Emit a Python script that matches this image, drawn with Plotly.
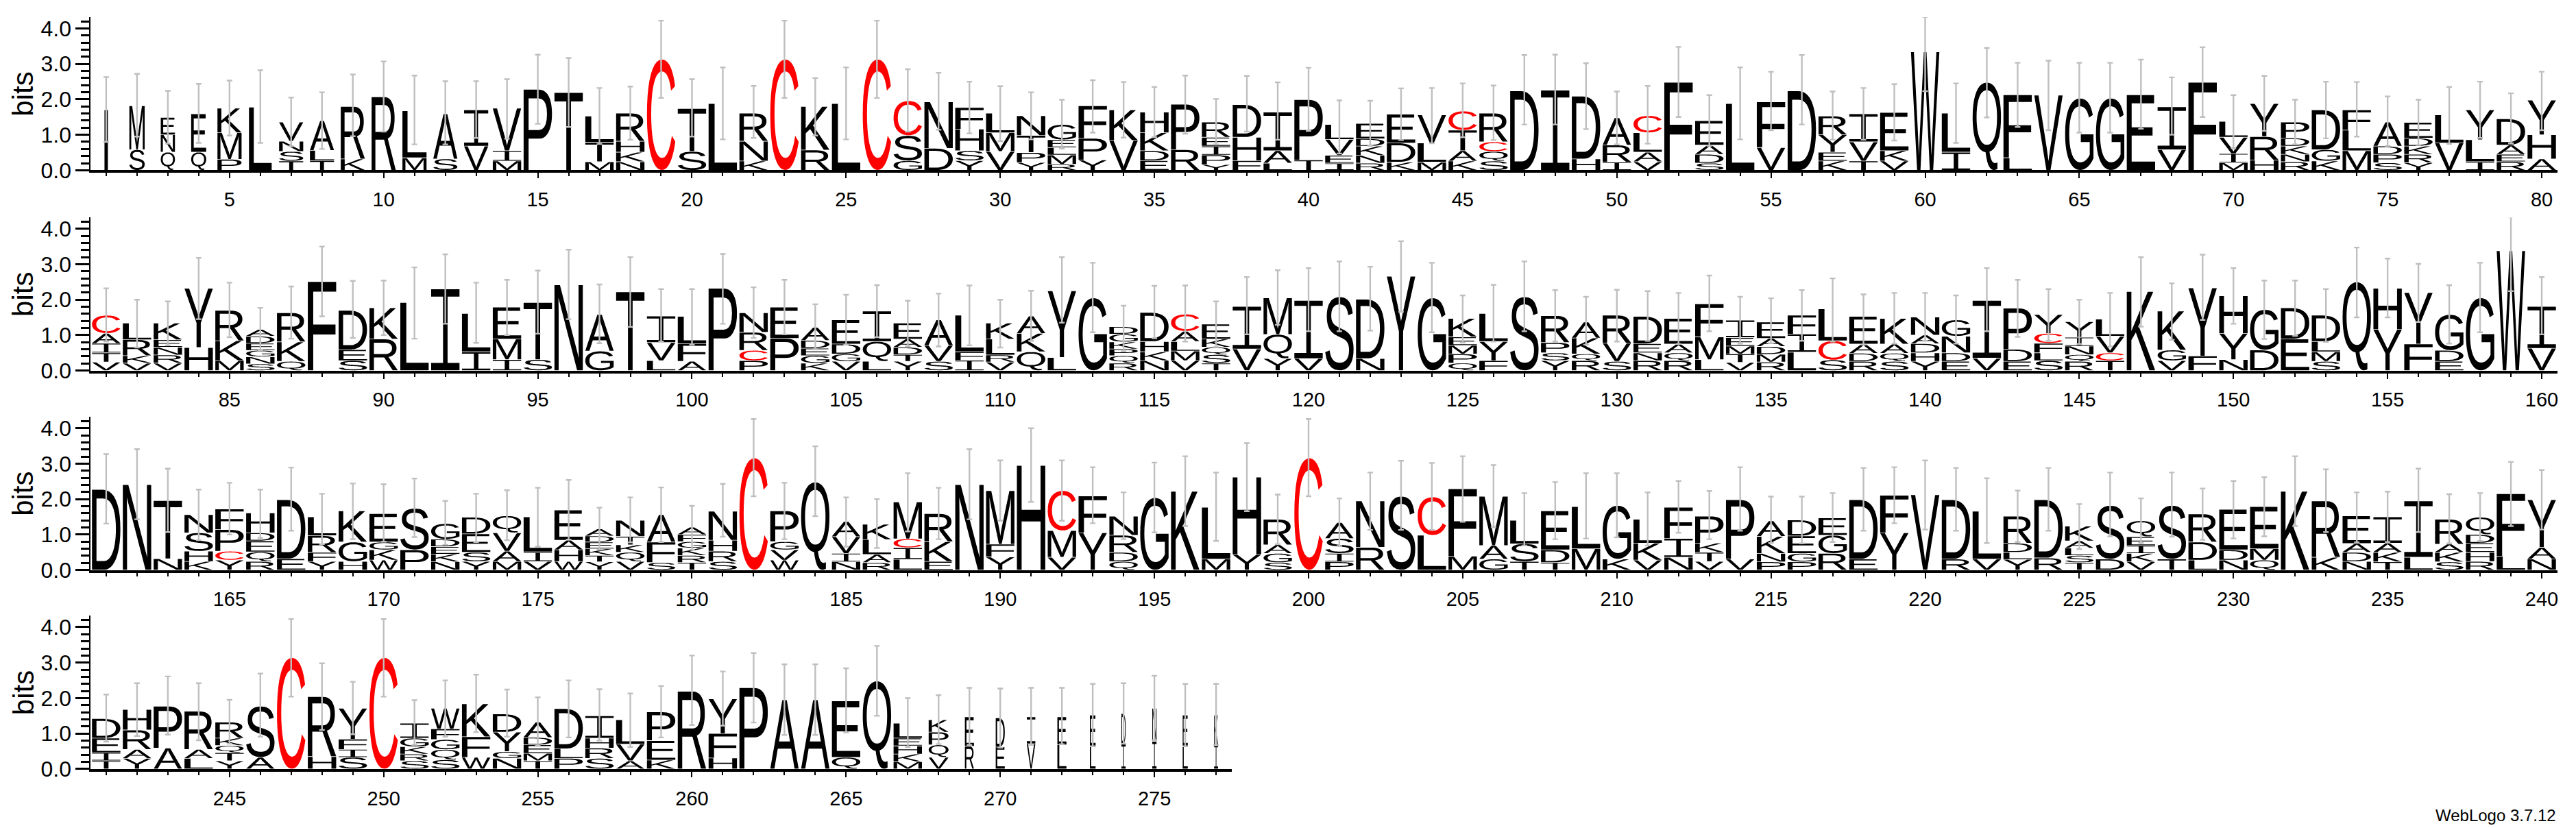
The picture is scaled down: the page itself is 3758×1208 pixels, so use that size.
import os, re, struct
import plotly.graph_objects as go

# ---------- data: each stack reads bottom to top, letter + cumulative height in bits ----------
stacks_1_80 = [
"I1.70","S.58 M1.82","Q.51 N1.0 E1.49","Q.51 E1.59","P.31 M1.06 K1.75","L1.78","T.26 S.53 N.82 V1.36","T.27 L.56 A1.40","K.32 R1.80","R2.07",
"M.35 L1.68","S.32 A1.59","V.68 I1.70","M.26 I.55 V1.75","P2.28","T2.19","M.24 T.79 L1.53","N.24 K.51 H.82 R1.61","C3.13","S.53 T1.74",
"L1.88","K.26 N.82 R1.61","C3.13","R.57 K1.80","L1.88","C3.13","G.27 S.98 C1.96","D.62 N1.93","Y.27 S.55 H1.16 F1.77","V.53 M1.06 L1.61",
"Y.22 P.5 T.98 N1.54","R.17 M.43 L.64 E.86 G1.29","Y.29 P.9 F1.82","V.84 K1.70","E.27 D.55 K1.06 H1.64","R.58 P1.86","Y.16 P.43 I.68 E.93 R1.36","F.27 H.93 D1.85","L.2 A.55 I1.64","T.29 P1.99",
"I.2 E.42 V.87 L1.29","R.2 N.42 K.68 D.89 E1.32","K.23 D.77 E1.58","M.23 L.77 V1.56","K.26 A.55 T1.13 C1.67","S.26 Q.53 C.8 R1.61","D2.24","I2.26","H.32 D2.09","I.23 R.71 A1.48",
"V.24 A.51 L1.06 C1.54","F2.48","S.2 D.45 A.71 E1.40","L1.88","V.64 F1.93","D2.24","K.26 E.51 Y1.0 R1.53","T.26 V.8 I1.59","V.26 K.55 E1.63","W3.34",
"I.51 L1.61","Q2.48","L.35 F2.13","V2.12","G2.03","G2.03","E2.13","V.58 I1.79","F2.48","M.21 I.47 V.93 L1.38",
"H.29 R.95 Y1.88","R.24 N.45 K.68 D.91 P1.36","K.26 G.58 D1.70","M.55 L1.13 F1.70","S.21 P.45 D.68 A1.36","Y.21 R.45 K.68 D.91 E1.35","V.77 L1.56","I.24 L.86 Y1.70","R.24 E.45 A.71 D1.45","A.32 H1.0 Y1.98",
]
stacks_81_160 = [
"V.24 T.5 I.77 A1.05 C1.56","V.21 K.42 R.87 L1.34","V.21 R.44 N.66 E.87 K1.34","H.65 Y2.32","M.28 K.84 R1.70","S.19 N.39 G.57 E.77 D.97 A1.16","Q.26 K.81 R1.63","F2.51","S.28 E.59 D1.70","R.89 K1.77",
"L1.92","I2.30","I.53 L1.61","I.31 M.89 E1.79","S.31 T1.92","N2.42","G.55 A1.58","T2.22","L.28 V.79 I1.54","A.26 F.76 L1.53",
"P2.32","P.28 C.57 R1.08 N1.63","P.91 E1.79","K.21 G.42 E.63 D.85 A1.22","V.26 G.47 D.75 E1.43","L.26 Q.82 I1.68","Y.26 T.45 D.66 A.89 E1.34","S.26 V.71 A1.43","I.29 F.53 L1.56","V.24 R.44 L.89 K1.34",
"Q.53 K1.05 A1.54","L.37 Y2.25","G2.05","R.21 Q.42 P.61 K.81 G1.03 D1.24","N.28 K.53 H.82 D1.64","V.28 M.55 L.82 A1.11 C1.59","T.21 S.45 Q.66 K.89 E1.31","V.61 I1.81","Y.34 Q1.02 M2.05","V.34 I1.98",
"S2.08","N.34 D2.01","Y2.66","G2.05","Q.21 P.47 M.71 E.95 K1.47","F.28 Y.82 L1.61","S2.08","Y.28 S.5 P.79 R1.55","R.28 Q.47 K.92 A1.37","S.26 V.78 R1.56",
"R.28 N.5 E.76 D1.53","R.28 Q.5 A.75 E1.47","L.31 M.95 F1.88","V.23 T.47 M.69 E.93 I1.42","R.24 M.46 D.68 A.91 E1.37","L.52 I1.03 F1.56","S.3 C.84 L1.74","R.26 D.49 A.75 E1.53","S.26 Q.49 A.75 K1.47","Y.26 H.5 D.76 A1.0 N1.51",
"E.26 D.5 N.97 G1.43","V.35 I1.98","E.26 D.6 P1.76","S.28 L.5 F.77 C1.05 Y1.58","R.26 Q.45 N.69 I.94 Y1.38","T.28 C.5 V.97 L1.45","K2.23","V.28 G.58 K1.68","F.41 Y2.33","N.31 Y1.05 H2.11",
"D.58 G1.72","E.89 D1.77","S.26 M.53 L.82 D1.56","Q2.50","Y1.16 H2.32","F.75 Y2.20","E.26 D.57 G1.58","G2.05","W3.38","V.63 I1.81",
]
stacks_161_240 = [
"D2.27","N2.41","N.32 T1.96","K.24 H.53 S1.05 N1.56","Y.28 C.53 P1.14 F1.72","R.24 Q.51 E.82 D1.05 H1.61","E.32 D1.98","Y.24 F.5 R.97 L1.50","H.24 G.79 K1.67","W.28 K.57 G.79 E1.59",
"P.57 S1.74","N.23 K.45 E.66 D.87 G1.31","Y.24 S.5 E1.02 D1.49","M.24 A.53 V1.05 Q1.53","V.24 I.51 L1.50","W.24 H.57 A.84 E1.69","Y.23 T.41 K.6 E.79 D.96 A1.16","V.24 Q.5 K.71 T.95 N1.40","S.21 F.79 A1.56","T.21 R.41 K.62 G.8 F1.0 A1.21",
"S.24 R.53 H.84 N1.66","C3.16","W.28 V.57 G.8 P1.67","Q2.48","N.23 I.47 V.94 A1.37","R.21 A.44 L.86 K1.29","L.3 I.63 C.88 M1.92","E.24 K.8 R1.59","N2.41","Y.37 F.73 M2.24",
"H2.95","V.36 M1.11 C2.24","Y1.05 F2.09","Q.24 D.5 R.98 N1.52","G2.04","K2.22","M.31 L1.77","Y.44 H2.62","S.21 G.47 A.71 R1.43","C3.16",
"P.23 I.47 S.89 A1.34","R.64 N1.95","S2.08","L.98 C2.06","M.39 F2.29","G.31 A.69 M2.08","T.24 S.74 L1.40","T.21 D.57 E1.67","M.6 L1.79","K.31 G1.82",
"V.28 K.76 L1.43","N.36 I.89 F1.77","V.24 T.5 K.76 P1.52","V.31 P1.98","P.23 N.47 K.95 A1.39","P.23 G.47 E.96 D1.41","R.47 G.98 E1.47","E.31 D1.98","Y1.05 F2.11","V2.12",
"R.31 D1.98","V.31 L1.66","Y.3 L.5 D.76 R1.52","R.34 D1.98","T.21 S.41 L.62 A.82 K1.24","D.31 S1.82","V.23 K.47 I.69 E.94 Q1.39","T.31 S1.82","L.28 D.79 R1.58","N.28 D.57 E1.71",
"Q.28 M.6 E1.79","K2.22","K.36 R1.95","N.24 D.5 A.75 E1.53","T.23 K.5 A.76 I1.50","L.36 I1.95","S.23 K.5 A.73 R1.43","R.24 H.5 E.76 D1.0 Q1.49","L.39 F2.15","N.31 A.64 Y1.98",
]
stacks_241_277 = [
"T.23 I.46 E.87 D1.42","Y.3 A.55 R1.1 H1.68","A.59 P1.77","L.3 A.55 R1.63","Y.23 T.46 Q.66 K.87 R1.32","A.33 S1.77","C3.14","H.35 R2.04","S.33 I.55 F.84 Y1.71","C3.14",
"S.23 R.42 K.63 G.87 I1.29","S.26 Q.55 G.83 F1.13 W1.71","W.33 F.91 K1.84","N.3 G.49 Y1.04 D1.55","T.23 M.44 E.68 D.89 A1.32","P.3 L.57 D1.70","S.3 R.59 H.87 I1.50","A.23 V.7 L1.39","K.25 E.8 P1.61","R2.19",
"H.31 F1.0 Y1.98","P2.29","A1.95","A1.95","Q.33 E1.92","Q2.48","M.2 K.42 H.65 E.87 L1.29","V.33 Q.68 P1.04 K1.39","R.64 E1.47","E.62 D1.44",
"V.71 I1.47","L.68 E1.47","L.63 E1.52","I.7 D1.56","I.78 N1.71","L.63 E1.52","I.68 K1.52",
]
err_high = [
2.63,2.72,2.24,2.44,2.53,2.82,2.05,2.2,2.7,3.07,2.67,2.51,2.51,2.57,3.26,3.17,2.32,2.36,4.22,2.57,
2.9,2.38,4.22,2.6,2.9,4.22,2.85,2.75,2.5,2.37,2.2,1.99,2.54,2.49,2.35,2.67,2.01,2.66,2.48,2.89,
1.97,1.96,2.31,2.32,2.45,2.39,3.25,3.26,3.02,2.22,2.38,3.48,2.12,2.9,2.78,3.25,2.22,2.32,2.43,4.33,
2.45,3.45,3.03,3.09,3.03,3.03,3.12,2.62,3.47,2.12,2.66,1.99,2.5,2.49,2.08,1.99,2.35,2.5,2.17,2.78,
2.32,2.0,1.95,3.18,2.48,1.77,2.37,3.5,2.53,2.54,2.91,3.28,2.48,2.56,2.82,3.41,2.43,3.2,2.3,2.3,
3.29,2.35,2.56,1.87,2.14,2.41,1.97,2.17,2.4,2.0,2.25,3.2,3.04,1.83,2.39,2.4,1.95,2.64,2.83,2.89,
3.08,2.93,3.65,3.04,2.12,2.42,3.08,2.27,2.08,2.28,2.24,2.19,2.68,2.08,2.04,2.27,2.6,2.15,2.19,2.19,
2.12,2.89,2.56,2.3,2.0,2.19,3.2,2.46,3.27,2.89,2.54,2.54,2.3,3.47,3.16,3.01,2.41,3.04,4.34,2.64,
3.27,3.41,2.86,2.27,2.46,2.27,2.89,2.15,2.44,2.42,2.58,1.95,2.15,2.25,2.32,2.54,1.76,2.05,2.33,1.81,
2.43,4.26,2.46,3.49,2.05,2.0,2.73,2.32,3.41,3.09,4.0,3.09,2.9,2.19,3.03,3.21,2.75,3.58,2.13,4.26,
2.02,2.75,3.08,3.02,3.21,2.96,2.17,2.48,2.73,2.73,2.19,2.51,2.23,2.9,2.07,2.07,2.17,2.88,2.9,3.09,
2.88,2.59,2.24,2.88,1.86,2.75,2.02,2.75,2.3,2.51,2.62,3.21,2.84,2.19,2.21,2.86,2.14,2.17,3.05,2.82,
2.1,2.42,2.61,2.42,1.95,2.69,4.23,2.98,2.46,4.23,1.94,2.5,2.66,2.24,2.02,2.5,2.25,2.13,2.34,3.2,
2.75,3.27,2.95,2.95,2.84,3.47,2.0,2.08,2.29,2.27,2.29,2.29,2.4,2.42,2.63,2.4,2.4,
]
err_low = [
.8,.95,.75,.77,.98,.77,.68,.6,.96,1.09,.73,.73,.91,.89,1.31,1.22,.74,.86,2.04,.95,
.87,.91,2.04,.98,.87,2.04,1.09,1.14,1.04,.82,.87,.61,1.06,.92,.93,1.03,.73,1.09,.86,1.11,
.47,.69,.85,.76,.93,.85,1.29,1.29,1.16,.73,.75,1.5,.69,.87,1.13,1.29,.86,.86,.84,2.23,
.77,1.49,1.22,1.13,1.06,1.06,1.17,1.0,1.5,.62,1.11,.73,.9,.95,.68,.71,.74,.91,.76,1.13,
.82,.65,.71,1.45,.94,.57,.9,1.53,.92,1.0,.9,1.32,.78,1.0,1.04,1.45,.77,1.23,.82,.73,
1.32,.92,1.02,.6,.73,.94,.69,.68,.71,.65,.84,1.35,1.08,.54,.91,.82,.66,1.02,1.29,1.11,
1.11,1.13,1.66,1.08,.79,.82,1.11,.82,.73,.82,.84,.75,1.11,.76,.77,.84,.82,.73,.76,.84,
.76,1.11,.95,.84,.75,.68,1.24,.87,1.43,1.32,.89,.98,.81,1.5,1.5,1.37,.76,1.08,2.24,1.02,
1.31,1.43,1.07,.84,1.0,.9,1.11,.73,.87,.8,.93,.71,.79,.84,.66,.86,.57,.78,.79,.57,
.94,2.08,.87,1.52,.66,.62,1.09,.87,1.43,1.39,1.92,1.39,1.32,.87,1.06,1.24,.82,1.66,.73,2.08,
.68,1.13,1.13,1.13,1.36,1.21,.69,.87,.89,.92,.69,1.05,.87,1.11,.76,.75,.79,1.11,1.32,1.14,
1.11,.76,.79,1.11,.59,.95,.76,.94,.85,.89,.95,1.24,1.07,.78,.79,1.07,.75,.82,1.24,1.14,
.77,.93,.97,.81,.71,.91,2.04,1.1,.98,2.04,.68,.91,1.04,.91,.65,.89,.8,.62,.89,1.24,
1.22,1.31,.96,.96,1.03,1.5,.62,.7,.68,.6,.68,.7,.64,.71,.81,.64,.67,
]
narrow_stacks = {1:.12,2:.54,3:.5,4:.53,5:.85,6:.8,7:.85,8:.85,9:.85,10:.85,11:.85,12:.85,13:.85,
                 268:.7,269:.32,270:.32,271:.3,272:.32,273:.2,274:.15,275:.15,276:.18,277:.14}
plain_bar_stacks = {1}
all_stacks = stacks_1_80 + stacks_81_160 + stacks_161_240 + stacks_241_277
row_ranges = [(1, 80), (81, 160), (161, 240), (241, 277)]
row_base_px = [248, 541, 832.7, 1123.7]
W, H = 3758, 1192
PX_PER_POS, AX_LEFT, AX_HEIGHT = 45.0, 132.5, 224.0
FONT = "Liberation Sans, Arial, sans-serif"
LETTER_FILL = 0.92


# ---------- glyph outlines are read out of the installed font ----------
def find_font():
    for root in ("/usr/share/fonts", "/usr/local/share/fonts", os.path.expanduser("~/.fonts")):
        for d, _, files in os.walk(root):
            if "LiberationSans-Regular.ttf" in files:
                return os.path.join(d, "LiberationSans-Regular.ttf")
    raise RuntimeError("font not found")


def load_glyphs(path, chars):
    data = open(path, "rb").read()
    n = struct.unpack(">H", data[4:6])[0]
    tabs = {}
    for i in range(n):
        tag, _, off, ln = struct.unpack(">4sIII", data[12 + 16 * i:28 + 16 * i])
        tabs[tag.decode()] = off
    fmt = struct.unpack(">h", data[tabs["head"] + 50:tabs["head"] + 52])[0]
    cm = tabs["cmap"]
    nt = struct.unpack(">H", data[cm + 2:cm + 4])[0]
    sub = None
    for i in range(nt):
        pid, eid, o = struct.unpack(">HHI", data[cm + 4 + 8 * i:cm + 12 + 8 * i])
        if pid == 3 and eid in (1, 10):
            if struct.unpack(">H", data[cm + o:cm + o + 2])[0] == 4:
                sub = cm + o
    segx2 = struct.unpack(">H", data[sub + 6:sub + 8])[0]
    seg = segx2 // 2

    def gid(c):
        for i in range(seg):
            end = struct.unpack(">H", data[sub + 14 + 2 * i:sub + 16 + 2 * i])[0]
            if c <= end:
                p = sub + 16 + segx2
                start = struct.unpack(">H", data[p + 2 * i:p + 2 + 2 * i])[0]
                delta = struct.unpack(">h", data[p + segx2 + 2 * i:p + segx2 + 2 + 2 * i])[0]
                rp = p + 2 * segx2 + 2 * i
                ro = struct.unpack(">H", data[rp:rp + 2])[0]
                if c < start:
                    return 0
                if ro == 0:
                    return (c + delta) & 0xFFFF
                g = struct.unpack(">H", data[rp + ro + 2 * (c - start):rp + ro + 2 * (c - start) + 2])[0]
                return (g + delta) & 0xFFFF if g else 0
        return 0

    def loca(g):
        if fmt:
            return struct.unpack(">I", data[tabs["loca"] + 4 * g:tabs["loca"] + 4 * g + 4])[0]
        return 2 * struct.unpack(">H", data[tabs["loca"] + 2 * g:tabs["loca"] + 2 * g + 2])[0]

    out = {}
    for ch in chars:
        p = tabs["glyf"] + loca(gid(ord(ch)))
        nc = struct.unpack(">h", data[p:p + 2])[0]
        p += 10
        ends = struct.unpack(">%dH" % nc, data[p:p + 2 * nc])
        p += 2 * nc
        il = struct.unpack(">H", data[p:p + 2])[0]
        p += 2 + il
        np_ = ends[-1] + 1
        flags = []
        while len(flags) < np_:
            f = data[p]; p += 1
            flags.append(f)
            if f & 8:
                r = data[p]; p += 1
                flags += [f] * r
        xs, v = [], 0
        for f in flags:
            if f & 2:
                d = data[p]; p += 1
                v += d if f & 16 else -d
            elif not f & 16:
                v += struct.unpack(">h", data[p:p + 2])[0]; p += 2
            xs.append(v)
        ys, v = [], 0
        for f in flags:
            if f & 4:
                d = data[p]; p += 1
                v += d if f & 32 else -d
            elif not f & 32:
                v += struct.unpack(">h", data[p:p + 2])[0]; p += 2
            ys.append(v)
        contours, s = [], 0
        for e in ends:
            pts = [(xs[i], ys[i], flags[i] & 1) for i in range(s, e + 1)]
            s = e + 1
            exp = []
            for i, a in enumerate(pts):
                exp.append(a)
                b = pts[(i + 1) % len(pts)]
                if not a[2] and not b[2]:
                    exp.append(((a[0] + b[0]) / 2, (a[1] + b[1]) / 2, 1))
            k = next(i for i, a in enumerate(exp) if a[2])
            exp = exp[k:] + exp[:k]
            poly, i = [], 0
            m = len(exp)
            while i < m:
                a = exp[i]; b = exp[(i + 1) % m]
                if b[2]:
                    poly.append((a[0], a[1])); i += 1
                else:
                    c = exp[(i + 2) % m]
                    for t in (0, .2, .4, .6, .8):
                        poly.append(((1 - t) ** 2 * a[0] + 2 * t * (1 - t) * b[0] + t * t * c[0],
                                     (1 - t) ** 2 * a[1] + 2 * t * (1 - t) * b[1] + t * t * c[1]))
                    i += 2
            contours.append(poly)
        out[ch] = contours
    return out


def area(c):
    return sum(c[i][0] * c[(i + 1) % len(c)][1] - c[(i + 1) % len(c)][0] * c[i][1] for i in range(len(c))) / 2


def unit_outline(contours):
    """One closed run per solid part, holes joined in by a zero-width bridge, scaled to the unit box."""
    xs = [p[0] for c in contours for p in c]
    ys = [p[1] for c in contours for p in c]
    x0, x1, y0, y1 = min(xs), max(xs), min(ys), max(ys)
    cs = [[((x - x0) / (x1 - x0), (y - y0) / (y1 - y0)) for x, y in c] for c in contours]
    big = max(cs, key=lambda c: abs(area(c)))
    sign = area(big) > 0
    solids = [c for c in cs if (area(c) > 0) == sign]
    for hole in [c for c in cs if (area(c) > 0) != sign]:
        best = None
        for si, sol in enumerate(solids):
            for i, a in enumerate(sol):
                for j, b in enumerate(hole):
                    d = (a[0] - b[0]) ** 2 + (a[1] - b[1]) ** 2
                    if best is None or d < best[0]:
                        best = (d, si, i, j)
        _, si, i, j = best
        sol = solids[si]
        solids[si] = sol[:i + 1] + hole[j:] + hole[:j + 1] + sol[i:]
    return [c + c[:1] for c in solids]


raw = load_glyphs(find_font(), "ACDEFGHKLMNPQRSTVWY")
outlines = {k: unit_outline(v) for k, v in raw.items()}
# this logo's I carries bars top and bottom
outlines["I"] = [[(0, 0), (1, 0), (1, .09), (.58, .09), (.58, .91), (1, .91), (1, 1),
                  (0, 1), (0, .91), (.42, .91), (.42, .09), (0, .09), (0, 0)]]
plain_bar = [[(0, 0), (1, 0), (1, 1), (0, 1), (0, 0)]]


def stack_items(pos):
    out, prev = [], 0.0
    for letter, top in re.findall(r"([A-Z])([\d.]+)", all_stacks[pos - 1]):
        out.append((letter, prev, float(top)))
        prev = float(top)
    return out


fig = go.Figure()
annotations = []
for r, (first, last) in enumerate(row_ranges):
    xname = "x" if r == 0 else f"x{r + 1}"
    yname = "y" if r == 0 else f"y{r + 1}"
    paths = {"#000000": ([], []), "#ff0000": ([], [])}
    ex, ey, ep, em = [], [], [], []
    for pos in range(first, last + 1):
        w = LETTER_FILL * narrow_stacks.get(pos, 1.0)
        items = stack_items(pos)
        for letter, b, t in items:
            px, py = paths["#ff0000" if letter == "C" else "#000000"]
            for run in (plain_bar if pos in plain_bar_stacks else outlines[letter]):
                for ux, uy in run:
                    px.append(pos - w / 2 + ux * w)
                    py.append(b + .008 + uy * (t - b - .016))
                px.append(None); py.append(None)
        top = items[-1][2]
        ex.append(pos); ey.append(top)
        ep.append(err_high[pos - 1] - top); em.append(top - err_low[pos - 1])
    for color, (px, py) in paths.items():
        if px:
            fig.add_trace(go.Scatter(x=px, y=py, xaxis=xname, yaxis=yname, mode="lines", fill="toself",
                                     fillcolor=color, line=dict(width=0, color=color, simplify=False),
                                     hoverinfo="skip", showlegend=False))
    fig.add_trace(go.Scatter(x=ex, y=ey, xaxis=xname, yaxis=yname, mode="markers",
                             marker=dict(size=1, color="rgba(0,0,0,0)"), showlegend=False, hoverinfo="skip",
                             error_y=dict(type="data", symmetric=False, array=ep, arrayminus=em,
                                          color="#bfbfbf", thickness=2.4, width=4)))
    base = row_base_px[r]
    right = AX_LEFT + (last - first + 1) * PX_PER_POS
    fig.layout[f"xaxis{r + 1 if r else ''}"] = dict(
        domain=[AX_LEFT / W, right / W], range=[first - .5, last + .5], anchor=yname,
        showline=True, linecolor="black", linewidth=4, showgrid=False, zeroline=False,
        ticks="outside", ticklen=8, tickwidth=2, tickcolor="black", tick0=0, dtick=5, tickangle=0,
        tickfont=dict(family=FONT, size=29, color="black"), ticklabelstandoff=6,
        minor=dict(ticks="outside", ticklen=5, tickwidth=2, tickcolor="black", dtick=1, tick0=0, showgrid=False))
    fig.layout[f"yaxis{r + 1 if r else ''}"] = dict(
        domain=[(H - base) / H, (H - base + AX_HEIGHT) / H], range=[0, AX_HEIGHT / 51.85], anchor=xname,
        showline=True, linecolor="black", linewidth=2, showgrid=False, zeroline=False,
        ticks="outside", ticklen=20, tickwidth=3, tickcolor="black", tick0=0, dtick=1, tickformat=".1f",
        tickfont=dict(family=FONT, size=32, color="black"),
        minor=dict(ticks="outside", ticklen=12, tickwidth=3, tickcolor="black", dtick=.2, tick0=0, showgrid=False))
    annotations.append(dict(text="bits", xref="paper", yref="paper", x=34 / W, y=(H - base + 112) / H,
                            xanchor="center", yanchor="middle", textangle=-90, showarrow=False,
                            font=dict(family=FONT, size=42, color="black")))

annotations.append(dict(text="WebLogo 3.7.12", xref="paper", yref="paper", x=3733 / W, y=(H - 1191) / H,
                        xanchor="right", yanchor="middle", showarrow=False,
                        font=dict(family=FONT, size=24, color="black")))
fig.update_layout(width=3758, height=1208, margin=dict(l=0, r=0, t=0, b=0), plot_bgcolor="white", paper_bgcolor="white",
                  showlegend=False, annotations=annotations)
fig.write_html("out.html", config={"displayModeBar": False, "responsive": False},
               post_script="document.body.style.margin='0';document.documentElement.style.overflow='hidden';")
